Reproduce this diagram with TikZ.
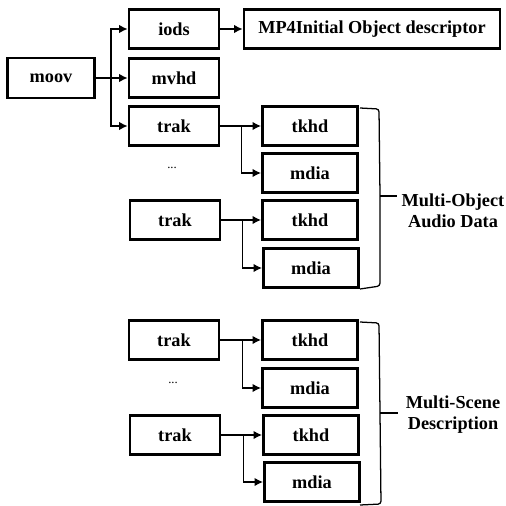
\documentclass[tikz,border=0pt]{standalone}
\usepackage{fontspec}
\setmainfont{Liberation Serif}[BoldFont={Liberation Serif Bold}]
\usepackage{tikz}
\usetikzlibrary{arrows.meta}

\begin{document}
\begin{tikzpicture}[x=0.025cm,y=-0.025cm,
  box/.style={draw,line width=2pt,inner sep=0pt,minimum width=2.25cm,minimum height=0.96cm,font=\fontsize{13}{15}\selectfont\bfseries},
  sub/.style={box,minimum width=2.38cm},
  arr/.style={line width=0.9pt,-{Latex[length=6pt,width=6pt]}},
  brace/.style={line width=0.9pt,rounded corners=2pt},
  lbl/.style={align=center,inner sep=0pt,font=\fontsize{13}{15}\selectfont\bfseries}]
\useasboundingbox (0,0) rectangle (506,506);
\node[box,minimum width=2.18cm,minimum height=1cm](moov)at(51,78){moov};
\node[box](iods)at(174,29){iods};
\node[box,minimum width=6.4cm](mpfour)at(372,29){MP4Initial Object descriptor};
\node[box](mvhd)at(174,78){mvhd};
\node[box](trakA)at(174,126){trak};
\node(dotsA)at(172,168){\small...};
\node[box](trakB)at(175,220){trak};
\node[sub](tkhdA)at(310,126){tkhd};
\node[sub](mdiaA)at(310,173){mdia};
\node[sub](tkhdB)at(310,220){tkhd};
\node[sub](mdiaB)at(311,268){mdia};
\node[box](trakC)at(174,340){trak};
\node(dotsB)at(173,383){\small...};
\node[box](trakD)at(175,435){trak};
\node[sub](tkhdC)at(310,340){tkhd};
\node[sub](mdiaC)at(310,388){mdia};
\node[sub](tkhdD)at(311,435){tkhd};
\node[sub](mdiaD)at(312,482){mdia};
\node[lbl](objlbl)at(453,211){Multi-Object\\Audio Data};
\node[lbl](scnlbl)at(453,415){Multi-Scene\\Description};
\draw[arr](moov.east)--++(15,0)|-(iods.west);
\draw[arr](moov.east)--(mvhd.west);
\draw[arr](moov.east)--++(15,0)|-(trakA.west);
\draw[arr](iods)--(mpfour);
\draw[arr](trakA.east)--(tkhdA.west);
\draw[arr](trakA.east)--++(21,0)|-(mdiaA.west);
\draw[arr](trakB.east)--(tkhdB.west);
\draw[arr](trakB.east)--++(21,0)|-(mdiaB.west);
\draw[arr](trakC.east)--(tkhdC.west);
\draw[arr](trakC.east)--++(22,0)|-(mdiaC.west);
\draw[arr](trakD.east)--(tkhdD.west);
\draw[arr](trakD.east)--++(22,0)|-(mdiaD.west);
\coordinate(objtip)at(397,196);
\coordinate(scntip)at(398,413);
\draw[brace](360,108)--(379,109)--(380,196)--(380,286)--(360,289);
\draw[brace](380,196)--(objtip);
\draw[brace](360,322)--(379,323)--(380,413)--(381,504)--(360,505);
\draw[brace](380,413)--(scntip);
\end{tikzpicture}
\end{document}
